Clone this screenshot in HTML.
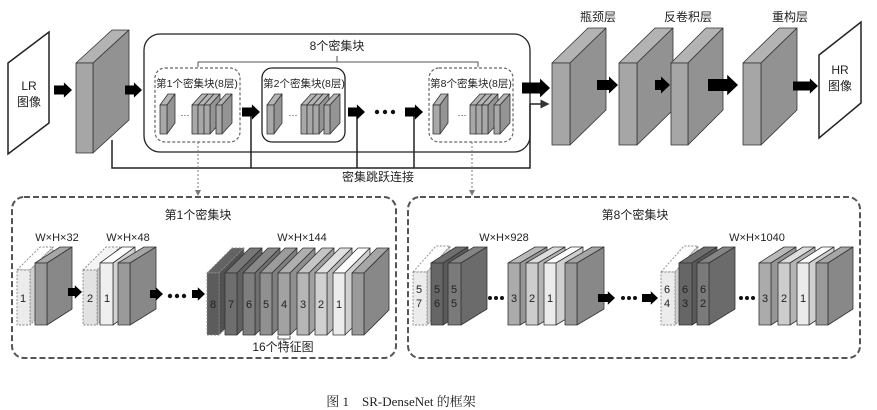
<!DOCTYPE html>
<html><head><meta charset="utf-8"><style>
html,body{margin:0;padding:0;background:#fff;}
svg{display:block;}
text{font-family:"Liberation Sans","Noto Sans CJK SC",sans-serif;fill:#222;}
</style></head><body>
<svg id="s" width="877" height="410" viewBox="0 0 877 410" xmlns="http://www.w3.org/2000/svg">
<defs>
<marker id="ah" markerWidth="6" markerHeight="6" refX="5" refY="3" orient="auto"><path d="M0,0 L6,3 L0,6 z" fill="#333"/></marker>
<marker id="ah2" markerWidth="6" markerHeight="6" refX="5" refY="3" orient="auto"><path d="M0,0 L6,3 L0,6 z" fill="#777"/></marker>
</defs>
<rect width="877" height="410" fill="#fff"/>
<polygon points="8,63 49,32 49,123 8,154" fill="#fff" stroke="#222" stroke-width="1.5"/>
<text x="29" y="90" font-size="12" text-anchor="middle">LR</text>
<text x="29" y="106" font-size="12" text-anchor="middle">图像</text>
<polygon points="819,55 861,22 861,103 819,138" fill="#fff" stroke="#222" stroke-width="1.5"/>
<text x="840" y="74" font-size="12" text-anchor="middle">HR</text>
<text x="840" y="90" font-size="12" text-anchor="middle">图像</text>
<rect x="144" y="34" width="386" height="118" rx="16" fill="none" stroke="#222" stroke-width="1.3"/>
<text x="337" y="50" font-size="12" text-anchor="middle">8个密集块</text>
<path d="M198,67 V62 H478 V67 M337,62 V56" fill="none" stroke="#555" stroke-width="1"/>
<rect x="155" y="68" width="85" height="74" rx="10" fill="none" stroke="#666" stroke-width="1.2" stroke-dasharray="3,2"/>
<rect x="262" y="68" width="83" height="74" rx="10" fill="none" stroke="#222" stroke-width="1.3"/>
<rect x="429" y="68" width="84" height="74" rx="10" fill="none" stroke="#666" stroke-width="1.2" stroke-dasharray="3,2"/>
<text x="197" y="87" font-size="10.5" text-anchor="middle">第1个密集块(8层)</text>
<text x="304" y="87" font-size="10.5" text-anchor="middle">第2个密集块(8层)</text>
<text x="471" y="87" font-size="10.5" text-anchor="middle">第8个密集块(8层)</text>
<text x="185" y="118" font-size="9" text-anchor="middle">···</text>
<text x="293" y="118" font-size="9" text-anchor="middle">···</text>
<text x="462" y="118" font-size="9" text-anchor="middle">···</text>
<path d="M112,140 V168 H530 V104 H548" fill="none" stroke="#222" stroke-width="1.5" marker-end="url(#ah)"/>
<path d="M251,168 V112 M357,168 V112 M414,168 V112" fill="none" stroke="#222" stroke-width="1.5"/>
<text x="378" y="181" font-size="12" text-anchor="middle">密集跳跃连接</text>
<line x1="198" y1="142" x2="198" y2="195" stroke="#777" stroke-width="1" stroke-dasharray="2,2" marker-end="url(#ah2)"/>
<line x1="472" y1="142" x2="472" y2="195" stroke="#777" stroke-width="1" stroke-dasharray="2,2" marker-end="url(#ah2)"/>
<g fill="#111"><circle cx="377" cy="112" r="2.2"/><circle cx="385" cy="112" r="2.2"/><circle cx="393" cy="112" r="2.2"/></g>
<text x="598" y="21" font-size="12" text-anchor="middle">瓶颈层</text>
<text x="688" y="21" font-size="12" text-anchor="middle">反卷积层</text>
<text x="790" y="21" font-size="12" text-anchor="middle">重构层</text>
<rect x="12" y="197" width="384" height="161" rx="12" fill="none" stroke="#555" stroke-width="2" stroke-dasharray="6,3"/>
<rect x="408" y="197" width="452" height="161" rx="12" fill="none" stroke="#555" stroke-width="2" stroke-dasharray="6,3"/>
<text x="198" y="219" font-size="12" text-anchor="middle">第1个密集块</text>
<text x="635" y="219" font-size="12" text-anchor="middle">第8个密集块</text>
<text x="57" y="241" font-size="11" text-anchor="middle">W×H×32</text>
<text x="128" y="241" font-size="11" text-anchor="middle">W×H×48</text>
<text x="302" y="241" font-size="11" text-anchor="middle">W×H×144</text>
<text x="504" y="241" font-size="11" text-anchor="middle">W×H×928</text>
<text x="757" y="241" font-size="11" text-anchor="middle">W×H×1040</text>
<path d="M278,336 V339 H290 V336 M284,339 V342" fill="none" stroke="#555" stroke-width="1"/>
<text x="283" y="351" font-size="12" text-anchor="middle">16个特征图</text>
<g fill="#111">
<circle cx="170" cy="296" r="2.2"/><circle cx="177" cy="296" r="2.2"/><circle cx="184" cy="296" r="2.2"/>
<circle cx="490" cy="298" r="2"/><circle cx="496" cy="298" r="2"/><circle cx="502" cy="298" r="2"/>
<circle cx="623" cy="298" r="2"/><circle cx="629" cy="298" r="2"/><circle cx="635" cy="298" r="2"/>
<circle cx="741" cy="298" r="2"/><circle cx="747" cy="298" r="2"/><circle cx="753" cy="298" r="2"/>
</g>
<g id="boxes"></g>
<text x="401" y="406" font-size="13" text-anchor="middle" style="font-family:'Liberation Serif','Noto Serif CJK SC',serif">图 1　SR-DenseNet 的框架</text>
</svg>
<script>
var g=document.getElementById('boxes');var NS='http://www.w3.org/2000/svg';
function P(pts,fill,dash){var p=document.createElementNS(NS,'polygon');p.setAttribute('points',pts.map(function(a){return a[0]+','+a[1]}).join(' '));p.setAttribute('fill',fill);p.setAttribute('stroke',dash?'#888':'#333');p.setAttribute('stroke-width',dash?'0.9':'0.8');if(dash)p.setAttribute('stroke-dasharray','2,1.5');p.setAttribute('stroke-linejoin','round');g.appendChild(p);}
function sh(c,k){var v=Math.max(0,Math.min(255,Math.round(parseInt(c.slice(1,3),16)*k)));var h=v.toString(16);if(h.length<2)h='0'+h;return '#'+h+h+h;}
function B(x,y,w,h,dx,dy,c,dash){
P([[x,y],[x+dx,y-dy],[x+w+dx,y-dy],[x+w,y]],sh(c,1.08),dash);
P([[x+w,y],[x+w+dx,y-dy],[x+w+dx,y+h-dy],[x+w,y+h]],sh(c,0.88),dash);
P([[x,y],[x+w,y],[x+w,y+h],[x,y+h]],c,dash);}
function A(x1,x2,y,t){var hw=t*1.7,hl=t*0.9;var p=document.createElementNS(NS,'polygon');var pts=[[x1,y-t/2],[x2-hl,y-t/2],[x2-hl,y-hw/2],[x2,y],[x2-hl,y+hw/2],[x2-hl,y+t/2],[x1,y+t/2]];p.setAttribute('points',pts.map(function(a){return a[0]+','+a[1]}).join(' '));p.setAttribute('fill','#000');g.appendChild(p);}
B(76,63,17,90,36,33,'#a6a6a6');
B(552,63,18,82,36,35,'#a6a6a6');
B(619,63,18,82,36,35,'#a6a6a6');
B(671,63,17,82,35,35,'#a6a6a6');
B(743,63,18,82,36,35,'#a6a6a6');
[[160,[192,198,204,216]],[267,[301,307,313,324]],[433,[470,476,482,494]]].forEach(function(b){
B(b[0],105,7,29,8,11,'#a8a8a8');b[1].forEach(function(x){B(x,105,6,29,10,11,'#a8a8a8');});});
A(54,72,90,9);A(125,142,90,9);A(242,260,112,9);A(348,365,112,9);A(405,423,112,9);A(522,550,88,11);
A(597,618,85,10);A(655,670,85,10);A(708,738,85,12);A(793,818,86,9);
B(17,270,13,55,23,23,'#ececec',1);B(35,263,12,62,25,16,'#9a9a9a');
B(83,270,14,55,23,23,'#e2e2e2',1);B(100,263,13,62,22,16,'#efefef');B(118,263,12,62,26,16,'#9a9a9a');
var cs=['#5c5c5c','#6e6e6e','#7e7e7e','#909090','#a2a2a2','#b6b6b6','#d0d0d0','#ececec','#9a9a9a'];
var xs=[207,225,243,260,278,297,315,333,352];
for(var i=0;i<9;i++)B(xs[i],273,12,62,25,25,cs[i],i==0);
A(68,82,292,8);A(150,163,294,8);A(192,205,294,8);
B(413,272,14,53,23,26,'#ececec',1);B(431,263,12,62,25,16,'#666666');B(448,263,13,62,26,16,'#7a7a7a');
[[508,'#ababab'],[526,'#cdcdcd'],[544,'#ebebeb'],[565,'#9a9a9a']].forEach(function(b){B(b[0],263,12,62,27,16,b[1]);});
B(661,272,14,53,23,26,'#ececec',1);B(679,263,13,62,25,16,'#666666');B(697,263,12,62,26,16,'#7a7a7a');
[[759,'#ababab'],[778,'#cdcdcd'],[797,'#ebebeb'],[816,'#9a9a9a']].forEach(function(b){B(b[0],263,12,62,25,16,b[1]);});
A(598,615,298,8);A(642,658,298,8);
</script>
<div style="position:absolute;left:0;top:0;width:877px;height:410px;pointer-events:none">
<svg width="877" height="410" style="position:absolute;left:0;top:0">
<g font-family="Liberation Sans,sans-serif" font-size="11" fill="#222" text-anchor="middle">
<text x="23" y="302">1</text>
<text x="90" y="302">2</text><text x="107" y="302">1</text>
<text x="213" y="308">8</text><text x="231" y="308">7</text><text x="249" y="308">6</text><text x="266" y="308">5</text><text x="284" y="308">4</text><text x="303" y="308">3</text><text x="321" y="308">2</text><text x="339" y="308">1</text>
<text x="419" y="293">5</text><text x="419" y="307">7</text>
<text x="437" y="293">5</text><text x="437" y="307">6</text>
<text x="454" y="293">5</text><text x="454" y="307">5</text>
<text x="514" y="302">3</text><text x="532" y="302">2</text><text x="550" y="302">1</text>
<text x="667" y="293">6</text><text x="667" y="307">4</text>
<text x="685" y="293">6</text><text x="685" y="307">3</text>
<text x="703" y="293">6</text><text x="703" y="307">2</text>
<text x="765" y="302">3</text><text x="784" y="302">2</text><text x="803" y="302">1</text>
</g></svg></div>
</body></html>
